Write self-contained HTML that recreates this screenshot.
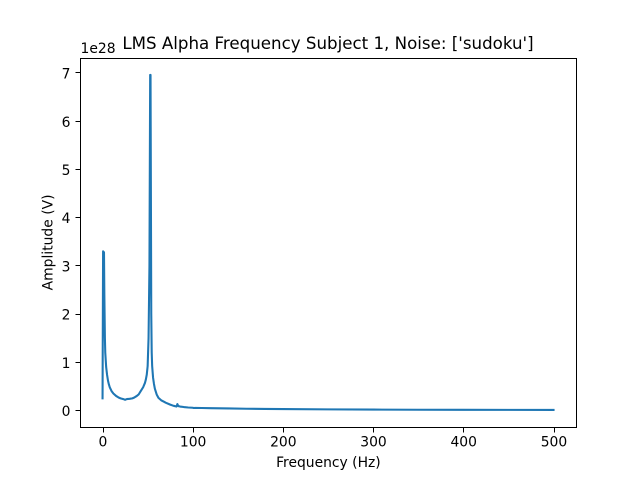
<!DOCTYPE html>
<html>
<head>
<meta charset="utf-8">
<style>
html,body{margin:0;padding:0;background:#fff;}
svg{display:block;}
text{font-family:"DejaVu Sans",sans-serif;fill:#000;}
</style>
</head>
<body>
<svg id="chart" xmlns="http://www.w3.org/2000/svg" width="640" height="480" viewBox="0 0 640 480"></svg>
<script>
const freqHz = [0,0.6,1.6,2,2.6,3,4,5,6,7,8,10,12,15,18,20,23,25,27,30,33,35,38,40,42,45,47,48,49,50,51,52,52.8,53.2,54,54.5,55,56,57,58,60,62,65,68,70,75,78,80,82,83,84,86,90,95,100,101,103,110,120,140,160,180,200,250,300,350,400,450,500];
const amplitude = [0.25,3.3,3.28,2.4,1.5,1.2,0.9,0.74,0.62,0.54,0.48,0.4,0.35,0.3,0.265,0.25,0.235,0.22,0.235,0.24,0.25,0.265,0.3,0.33,0.39,0.48,0.57,0.64,0.74,0.92,1.5,3.0,6.96,6.96,2.0,1.2,0.92,0.68,0.55,0.45,0.33,0.26,0.21,0.18,0.16,0.12,0.1,0.09,0.08,0.13,0.09,0.08,0.07,0.06,0.055,0.05,0.052,0.05,0.046,0.04,0.034,0.03,0.027,0.021,0.017,0.014,0.012,0.011,0.01];
const xTicks = [0,100,200,300,400,500];
const yTicks = [0,1,2,3,4,5,6,7];

const svg = document.getElementById('chart');
const NS = 'http://www.w3.org/2000/svg';
const plot = {left:80, right:576, top:57.6, bottom:427.2};
const xScale = v => 102.55 + v * 0.90196;
const yScale = v => 410.4 - v * 48.2;
const snap = v => Math.round(v) + 0.5;

function make(tag, attrs, parent) {
  const el = document.createElementNS(NS, tag);
  for (const k in attrs) el.setAttribute(k, attrs[k]);
  (parent || svg).appendChild(el);
  return el;
}

const bg = make('rect', {x:plot.left, y:plot.top, width:plot.right-plot.left, height:plot.bottom-plot.top, fill:'#fff'});



const line = make('polyline', {
  points: freqHz.map((f,i) => xScale(f).toFixed(2) + ',' + yScale(amplitude[i]).toFixed(2)).join(' '),
  fill:'none', stroke:'#1f77b4', 'stroke-width':2.08, 'stroke-linejoin':'round', 'stroke-linecap':'square'
});



const frame = make('rect', {x:snap(plot.left), y:snap(plot.top), width:snap(plot.right)-snap(plot.left), height:snap(plot.bottom)-snap(plot.top), fill:'none', stroke:'#000', 'stroke-width':1});



xTicks.forEach(t => {
  const x = snap(xScale(t));
  const tick = make('line', {x1:x, x2:x, y1:427.5, y2:432.5, stroke:'#000', 'stroke-width':1});
  
  
  const label = make('text', {x:xScale(t)+0.4, y:446.5, 'font-size':13.89, 'text-anchor':'middle'});
  label.textContent = t;
  
  
});

yTicks.forEach(t => {
  const y = Math.floor(yScale(t)) + 0.5;
  const tick = make('line', {x1:75.5, x2:80.5, y1:y, y2:y, stroke:'#000', 'stroke-width':1});
  
  
  const label = make('text', {x:70.5, y:yScale(t)+5.6, 'font-size':13.89, 'text-anchor':'end'});
  label.textContent = t;
  
  
});

const offset = make('text', {x:80.5, y:53, 'font-size':13.89});
offset.textContent = '1e28';



const title = make('text', {x:328, y:49, 'font-size':16.67, 'text-anchor':'middle'});
title.textContent = "LMS Alpha Frequency Subject 1, Noise: ['sudoku']";



const xTitle = make('text', {x:328.4, y:467, 'font-size':13.89, 'text-anchor':'middle'});
xTitle.textContent = 'Frequency (Hz)';



const yTitle = make('text', {x:0, y:0, 'font-size':13.89, 'text-anchor':'middle', transform:'translate(52.5,242.4) rotate(-90)'});
yTitle.textContent = 'Amplitude (V)';


</script>
</body>
</html>
